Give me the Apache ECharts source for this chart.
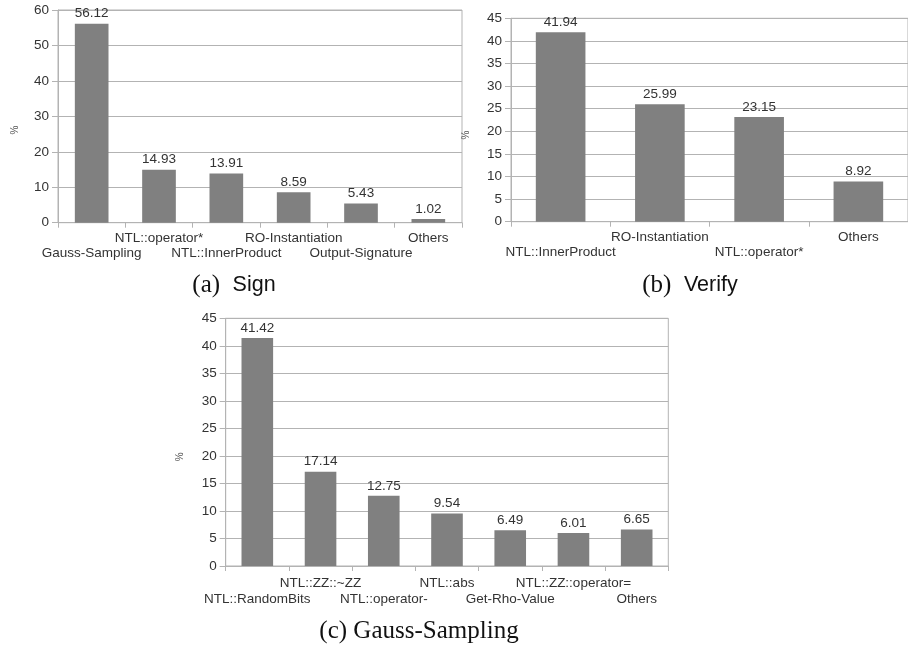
<!DOCTYPE html>
<html>
<head>
<meta charset="utf-8">
<script src="https://cdn.jsdelivr.net/npm/echarts@6/dist/echarts.min.js"></script>
<style>html,body{margin:0;padding:0;background:#fff;}#c{width:908px;height:648px;}</style>
</head>
<body>
<div id="c"></div>
<script>
const signCats = ['Gauss-Sampling', 'NTL::operator*', 'NTL::InnerProduct', 'RO-Instantiation', 'Output-Signature', 'Others'];
const signVals = [56.12, 14.93, 13.91, 8.59, 5.43, 1.02];
const verifyCats = ['NTL::InnerProduct', 'RO-Instantiation', 'NTL::operator*', 'Others'];
const verifyVals = [41.94, 25.99, 23.15, 8.92];
const gaussCats = ['NTL::RandomBits', 'NTL::ZZ::~ZZ', 'NTL::operator-', 'NTL::abs', 'Get-Rho-Value', 'NTL::ZZ::operator=', 'Others'];
const gaussVals = [41.42, 17.14, 12.75, 9.54, 6.49, 6.01, 6.65];
const signTicks = {min: 0, max: 60, interval: 10};
const verifyTicks = {min: 0, max: 45, interval: 5};
const gaussTicks = {min: 0, max: 45, interval: 5};

const GRID = '#b3b3b3';
const TXT = '#333333';
const SANS = 'Liberation Sans, Arial, sans-serif';

const grids = [
  {left: 58, top: 10, width: 404, height: 212.7},
  {left: 511, top: 18.3, width: 406, height: 203.4},
  {left: 225.7, top: 318.3, width: 442.6, height: 247.7}
];

function xAx(i, cats, margin, lh) {
  return {
    type: 'category', gridIndex: i, data: cats,
    axisLine: {lineStyle: {color: GRID}},
    axisTick: {show: true, length: 5, lineStyle: {color: GRID}},
    axisLabel: {
      interval: 0, margin: margin, color: TXT, fontFamily: SANS, fontSize: 13.5, lineHeight: lh,
      formatter: function (v, idx) { return idx % 2 === 0 ? '\n' + v : v; }
    },
    splitLine: {show: false}
  };
}
function yAx(i, t) {
  return {
    type: 'value', gridIndex: i, min: t.min, max: t.max, interval: t.interval,
    axisLine: {show: true, lineStyle: {color: GRID}},
    axisTick: {show: true, length: 6, lineStyle: {color: GRID}},
    axisLabel: {margin: 9, color: TXT, fontFamily: SANS, fontSize: 13.5},
    splitLine: {show: true, lineStyle: {color: GRID, width: 1}}
  };
}
function ser(i, vals) {
  return {
    type: 'bar', xAxisIndex: i, yAxisIndex: i, data: vals, barWidth: '50%',
    itemStyle: {color: '#808080'},
    label: {show: true, position: 'top', distance: 3, color: TXT, fontFamily: SANS, fontSize: 13.5,
      formatter: function (p) { return p.value.toFixed(2); }},
    silent: true, animation: false
  };
}
function caption(x, y, txt) {
  return {
    type: 'text', x: x, y: y,
    style: {
      text: txt,
      align: 'center', verticalAlign: 'middle',
      rich: {
        s: {fontFamily: 'Liberation Serif, serif', fontSize: 25, fill: '#111', color: '#111'},
        t: {fontFamily: 'Liberation Sans, sans-serif', fontSize: 21.5, fill: '#111', color: '#111'}
      }
    }
  };
}
function pct(x, y) {
  return {type: 'text', x: x, y: y, rotation: Math.PI / 2,
    style: {text: '%', fontFamily: SANS, fontSize: 10, fill: '#555', align: 'center', verticalAlign: 'middle'}};
}

const chart = echarts.init(document.getElementById('c'), null, {renderer: 'canvas'});
chart.setOption({
  animation: false,
  backgroundColor: '#fff',
  grid: grids.map(g => Object.assign({show: true, borderColor: GRID, borderWidth: 1, backgroundColor: 'transparent'}, g)),
  xAxis: [xAx(0, signCats, 8, 15), xAx(1, verifyCats, 8.5, 14.5), xAx(2, gaussCats, 10, 15.5)],
  yAxis: [yAx(0, signTicks), yAx(1, verifyTicks), yAx(2, gaussTicks)],
  series: [ser(0, signVals), ser(1, verifyVals), ser(2, gaussVals)],
  graphic: [
    pct(15, 130), pct(466.7, 135), pct(180, 456.7),
    caption(234, 285, '{s|(a)  }{t|Sign}'),
    caption(690, 285, '{s|(b)  }{t|Verify}'),
    caption(419, 631.7, '{s|(c) Gauss-Sampling}')
  ]
});
</script>
</body>
</html>
